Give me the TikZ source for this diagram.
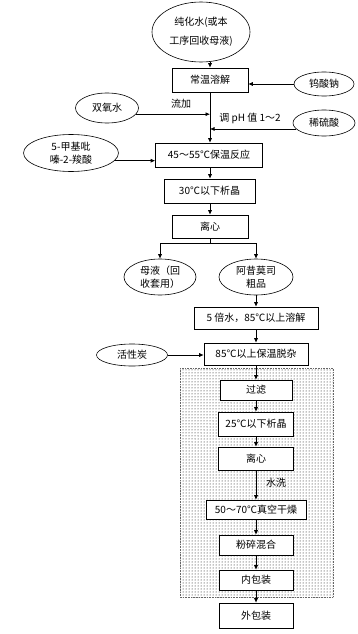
\documentclass[tikz,border=0pt]{standalone}
\usepackage{fontspec}
\setmainfont{Noto Sans CJK SC}
\usetikzlibrary{shapes.geometric,arrows.meta,patterns}
\begin{document}
\begin{tikzpicture}[x=1pt,y=-1pt,line width=0.6pt,
  font=\fontsize{10}{13}\selectfont,
  box/.style={draw,rectangle,fill=white,inner sep=1pt,align=center},
  oval/.style={draw,ellipse,fill=white,inner sep=0pt,align=center},
  arr/.style={-{Latex[length=4.5pt,width=4pt]}}]
\useasboundingbox (0,0) rectangle (358,634);
% dotted block
\fill[pattern=dots,pattern color=black] (180,368) rectangle (333,597);
\draw[black!60,densely dotted] (180,368) rectangle (333,597);
% feed and first steps
\node[oval,minimum width=98pt,minimum height=60pt] (water) at (201,32) {纯化水(或本\\[6pt]工序回收母液)};
\node[box,minimum width=76pt,minimum height=24pt] (dissolve) at (210,80) {常温溶解};
\node[oval,minimum width=60pt,minimum height=24pt] (tungstate) at (324,84) {钨酸钠};
\node[oval,minimum width=63pt,minimum height=30pt] (peroxide) at (107,108) {双氧水};
\node[oval,minimum width=62pt,minimum height=26pt] (acid) at (324,123) {稀硫酸};
\node[oval,minimum width=95pt,minimum height=37pt] (methyl) at (71,153) {5-甲基吡\\嗪-2-羧酸};
\node[box,minimum width=107pt,minimum height=24pt] (react) at (209,155) {45～55℃保温反应};
\node[box,minimum width=91pt,minimum height=24pt] (cryst) at (209.5,191) {30℃以下析晶};
\node[box,minimum width=76pt,minimum height=23pt] (centrif) at (210,226.5) {离心};
\node[oval,minimum width=72pt,minimum height=36pt] (mother) at (160,277) {母液（回\\收套用）};
\node[oval,minimum width=74pt,minimum height=36pt] (crude) at (256,277) {阿昔莫司\\粗品};
% refining
\node[box,minimum width=124pt,minimum height=22pt] (redissolve) at (256,318) {5 倍水，85℃以上溶解};
\node[box,minimum width=104pt,minimum height=22pt] (decolor) at (256,354) {85℃以上保温脱杂};
\node[oval,minimum width=71pt,minimum height=22pt] (carbon) at (132,355) {活性炭};
\node[box,minimum width=72pt,minimum height=20pt] (filter) at (256,390) {过滤};
\node[box,minimum width=75pt,minimum height=24pt] (cryst2) at (256,424) {25℃以下析晶};
\node[box,minimum width=75pt,minimum height=23pt] (centrif2) at (256,458.5) {离心};
\node[box,minimum width=100pt,minimum height=19pt] (dry) at (256,509.5) {50～70℃真空干燥};
\node[box,minimum width=74pt,minimum height=20pt] (mill) at (256,545) {粉碎混合};
\node[box,minimum width=74pt,minimum height=20pt] (innerpack) at (256,580) {内包装};
\node[box,minimum width=74pt,minimum height=25pt] (outerpack) at (256,615.5) {外包装};
% labels
\node (drip) at (181,104) {流加};
\node (ph) at (250,118) {调 pH 值 1～2};
\node (wash) at (276,483) {水洗};
% connectors
\coordinate (j1) at (210,113);
\coordinate (j2) at (210,128);
\coordinate (split) at (210,243);
\draw[arr] (water.south -| dissolve.north) -- (dissolve.north);
\draw[arr] (tungstate.west) -- (tungstate.west -| dissolve.east);
\draw[arr] (dissolve.south) -- (dissolve.south |- react.north);
\draw[arr] (peroxide.-12) -- (peroxide.-12 -| j1);
\draw[arr] (acid.192) -- (acid.192 -| j2);
\draw[arr] (methyl.-10) -- (methyl.-10 -| react.west);
\draw[arr] (react.south -| centrif.north) -- (cryst.north -| centrif.north);
\draw[arr] (cryst.south -| centrif.north) -- (centrif.north);
\draw (centrif.south) -- (split);
\draw[arr] (split) -| (mother.north);
\draw[arr] (split) -| (crude.north);
\draw[arr] (crude.south) -- (redissolve.north);
\draw[arr] (redissolve) -- (decolor);
\draw[arr] (carbon.east) -- (carbon.east -| decolor.west);
\draw[arr] (decolor) -- (filter);
\draw[arr] (filter) -- (cryst2);
\draw[arr] (cryst2) -- (centrif2);
\draw[arr] (centrif2) -- (dry);
\draw[arr] (dry) -- (mill);
\draw[arr] (mill) -- (innerpack);
\draw[arr] (innerpack) -- (outerpack);
\end{tikzpicture}
\end{document}
